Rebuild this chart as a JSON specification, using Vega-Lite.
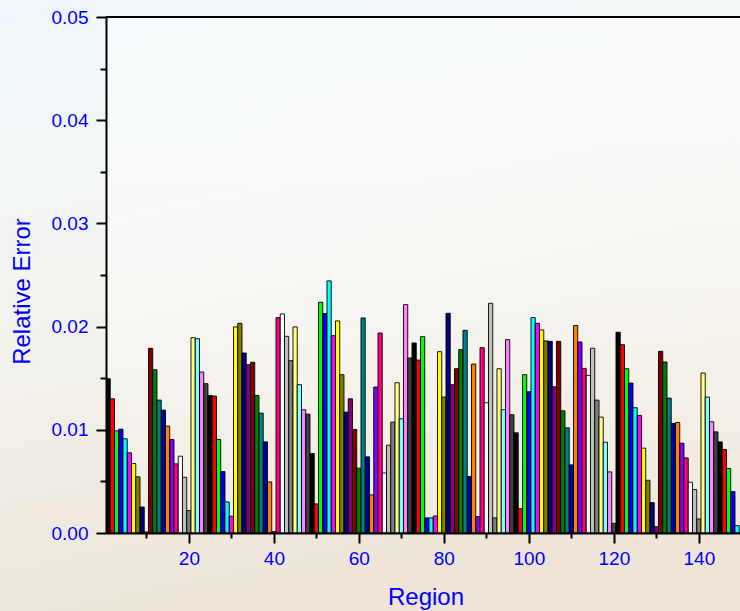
{
  "$schema": "https://vega.github.io/schema/vega-lite/v6.json",
  "autosize": {"type": "none"},
  "padding": {"left": 106, "top": 17, "right": 0, "bottom": 78},
  "width": 634,
  "height": 516,
  "background": "#f0ede6",
  "config": {"view": {"stroke": null}, "font": "Liberation Sans"},
  "datasets": {
    "bars": [
      {"region":1,"value":0.01495},{"region":2,"value":0.0130},{"region":3,"value":0.0099},{"region":4,"value":0.01006},
      {"region":5,"value":0.00913},{"region":6,"value":0.00777},{"region":7,"value":0.00673},{"region":8,"value":0.00544},
      {"region":9,"value":0.00252},{"region":10,"value":0.0001},{"region":11,"value":0.0179},{"region":12,"value":0.01582},
      {"region":13,"value":0.01288},{"region":14,"value":0.01191},{"region":15,"value":0.01036},{"region":16,"value":0.00906},
      {"region":17,"value":0.0067},{"region":18,"value":0.00744},{"region":19,"value":0.0054},{"region":20,"value":0.00217},
      {"region":21,"value":0.01893},{"region":22,"value":0.01883},{"region":23,"value":0.0156},{"region":24,"value":0.01447},
      {"region":25,"value":0.01333},{"region":26,"value":0.01327},{"region":27,"value":0.00906},{"region":28,"value":0.00595},
      {"region":29,"value":0.00301},{"region":30,"value":0.00162},{"region":31,"value":0.01997},{"region":32,"value":0.02032},
      {"region":33,"value":0.01744},{"region":34,"value":0.01631},{"region":35,"value":0.01654},{"region":36,"value":0.01333},
      {"region":37,"value":0.01162},{"region":38,"value":0.00883},{"region":39,"value":0.00495},{"region":40,"value":0.00013},
      {"region":41,"value":0.02087},{"region":42,"value":0.02123},{"region":43,"value":0.01906},{"region":44,"value":0.0167},
      {"region":45,"value":0.01997},{"region":46,"value":0.01437},{"region":47,"value":0.01194},{"region":48,"value":0.01152},
      {"region":49,"value":0.0077},{"region":50,"value":0.00282},{"region":51,"value":0.02236},{"region":52,"value":0.02126},
      {"region":53,"value":0.02443},{"region":54,"value":0.01912},{"region":55,"value":0.02055},{"region":56,"value":0.01534},
      {"region":57,"value":0.01171},{"region":58,"value":0.0130},{"region":59,"value":0.01003},{"region":60,"value":0.00628},
      {"region":61,"value":0.02084},{"region":62,"value":0.00738},{"region":63,"value":0.00369},{"region":64,"value":0.01414},
      {"region":65,"value":0.01938},{"region":66,"value":0.00582},{"region":67,"value":0.00851},{"region":68,"value":0.01074},
      {"region":69,"value":0.01456},{"region":70,"value":0.01107},{"region":71,"value":0.02213},{"region":72,"value":0.01696},
      {"region":73,"value":0.01841},{"region":74,"value":0.01676},{"region":75,"value":0.01903},{"region":76,"value":0.00146},
      {"region":77,"value":0.00146},{"region":78,"value":0.00165},{"region":79,"value":0.01757},{"region":80,"value":0.01317},
      {"region":81,"value":0.02129},{"region":82,"value":0.01437},{"region":83,"value":0.01592},{"region":84,"value":0.01777},
      {"region":85,"value":0.01964},{"region":86,"value":0.00547},{"region":87,"value":0.01637},{"region":88,"value":0.00159},
      {"region":89,"value":0.01796},{"region":90,"value":0.01262},{"region":91,"value":0.02226},{"region":92,"value":0.00146},
      {"region":93,"value":0.01592},{"region":94,"value":0.01194},{"region":95,"value":0.01874},{"region":96,"value":0.01146},
      {"region":97,"value":0.00971},{"region":98,"value":0.00236},{"region":99,"value":0.01534},{"region":100,"value":0.01369},
      {"region":101,"value":0.02087},{"region":102,"value":0.02032},{"region":103,"value":0.01968},{"region":104,"value":0.01861},
      {"region":105,"value":0.01857},{"region":106,"value":0.01417},{"region":107,"value":0.01857},{"region":108,"value":0.01184},
      {"region":109,"value":0.01019},{"region":110,"value":0.0066},{"region":111,"value":0.0201},{"region":112,"value":0.01851},
      {"region":113,"value":0.01595},{"region":114,"value":0.01527},{"region":115,"value":0.0179},{"region":116,"value":0.01288},
      {"region":117,"value":0.01123},{"region":118,"value":0.0088},{"region":119,"value":0.00592},{"region":120,"value":0.00094},
      {"region":121,"value":0.01945},{"region":122,"value":0.01825},{"region":123,"value":0.01592},{"region":124,"value":0.01453},
      {"region":125,"value":0.01214},{"region":126,"value":0.01139},{"region":127,"value":0.00822},{"region":128,"value":0.00511},
      {"region":129,"value":0.00294},{"region":130,"value":0.00061},{"region":131,"value":0.0176},{"region":132,"value":0.01657},
      {"region":133,"value":0.01307},{"region":134,"value":0.01061},{"region":135,"value":0.01071},{"region":136,"value":0.0087},
      {"region":137,"value":0.00728},{"region":138,"value":0.00492},{"region":139,"value":0.00421},{"region":140,"value":0.00136},
      {"region":141,"value":0.0155},{"region":142,"value":0.01317},{"region":143,"value":0.01078},{"region":144,"value":0.0098},
      {"region":145,"value":0.00883},{"region":146,"value":0.00809},{"region":147,"value":0.00625},{"region":148,"value":0.00401},
      {"region":149,"value":0.00071}
    ]
  },
  "layer": [
    {
      "data": {"values": [{}]},
      "mark": {
        "type": "rect",
        "clip": false,
        "fill": {
          "gradient": "linear", "x1": 0, "y1": 0, "x2": 0.3, "y2": 1,
          "stops": [
            {"offset": 0, "color": "#eef7fc"},
            {"offset": 0.45, "color": "#f3f4f0"},
            {"offset": 1, "color": "#eee4d7"}
          ]
        }
      },
      "encoding": {
        "x": {"datum": -26, "type": "quantitative"},
        "x2": {"datum": 180},
        "y": {"datum": 0.0520, "type": "quantitative"},
        "y2": {"datum": -0.0078}
      }
    },
    {
      "data": {"values": [{}]},
      "mark": {
        "type": "rect",
        "clip": true,
        "fill": {
          "gradient": "linear", "x1": 0, "y1": 0, "x2": 0, "y2": 1,
          "stops": [
            {"offset": 0, "color": "rgba(255,255,255,0.55)"},
            {"offset": 1, "color": "rgba(255,255,255,0.15)"}
          ]
        }
      },
      "encoding": {
        "x": {"datum": 0.5, "type": "quantitative"},
        "x2": {"datum": 160},
        "y": {"datum": 0.05, "type": "quantitative"},
        "y2": {"datum": 0}
      }
    },
    {
      "data": {"name": "bars"},
      "mark": {"type": "bar", "width": 4.25, "stroke": "#000000", "strokeWidth": 0.9, "clip": true},
      "encoding": {
        "x": {
          "field": "region", "type": "quantitative",
          "scale": {"domain": [0.5, 149.68], "nice": false, "zero": false, "padding": 0},
          "axis": {
            "title": "Region", "values": [10,20,30,40,50,60,70,80,90,100,110,120,130,140],
            "grid": false, "zindex": 1,
            "domainColor": "#000000", "domainWidth": 2,
            "tickColor": "#000000", "tickWidth": 2,
            "tickSize": {"condition": {"test": "datum.value % 20 == 0", "value": 10}, "value": 5},
            "labelExpr": "datum.value % 20 == 0 ? datum.label : ''",
            "labelFont": "Liberation Sans", "labelFontSize": 19, "labelColor": "#0000ff", "labelPadding": 6,
            "titleFont": "Liberation Sans", "titleFontSize": 24, "titleFontWeight": "normal", "titleColor": "#0000ff",
            "titleX": 319.5, "titleY": 71, "titleBaseline": "alphabetic", "titleAlign": "center"
          }
        },
        "y": {
          "field": "value", "type": "quantitative",
          "scale": {"domain": [0, 0.05], "nice": false, "padding": 0},
          "axis": {
            "title": "Relative Error",
            "values": [0,0.005,0.01,0.015,0.02,0.025,0.03,0.035,0.04,0.045,0.05],
            "format": ".2f", "grid": false, "zindex": 1,
            "domainColor": "#000000", "domainWidth": 2,
            "tickColor": "#000000", "tickWidth": 2,
            "tickSize": {"condition": {"test": "abs(datum.value*100 - round(datum.value*100)) < 0.000001", "value": 10}, "value": 6},
            "labelExpr": "abs(datum.value*100 - round(datum.value*100)) < 0.000001 ? datum.label : ''",
            "labelFont": "Liberation Sans", "labelFontSize": 19, "labelColor": "#0000ff", "labelPadding": 8,
            "titleFont": "Liberation Sans", "titleFontSize": 24, "titleFontWeight": "normal", "titleColor": "#0000ff",
            "titleX": -83.5, "titleY": 274, "titleBaseline": "middle", "titleAlign": "center", "titleAngle": 270
          }
        },
        "color": {
          "field": "region", "type": "ordinal", "legend": null,
          "scale": {"range": ["#000000","#ff0000","#00ff00","#0000ff","#00ffff","#ff00ff","#ffff00","#808000","#000080","#800080","#800000","#008000","#008080","#0000a0","#ff8000","#8000ff","#ff0080","#ffffff","#c0c0c0","#808080","#ffff80","#80ffff","#ff80ff","#404040"]}
        }
      }
    },
    {
      "data": {"values": [{}]},
      "mark": {"type": "rule", "color": "#000000", "strokeWidth": 2},
      "encoding": {"y": {"datum": 0.05, "type": "quantitative"}}
    }
  ]
}
